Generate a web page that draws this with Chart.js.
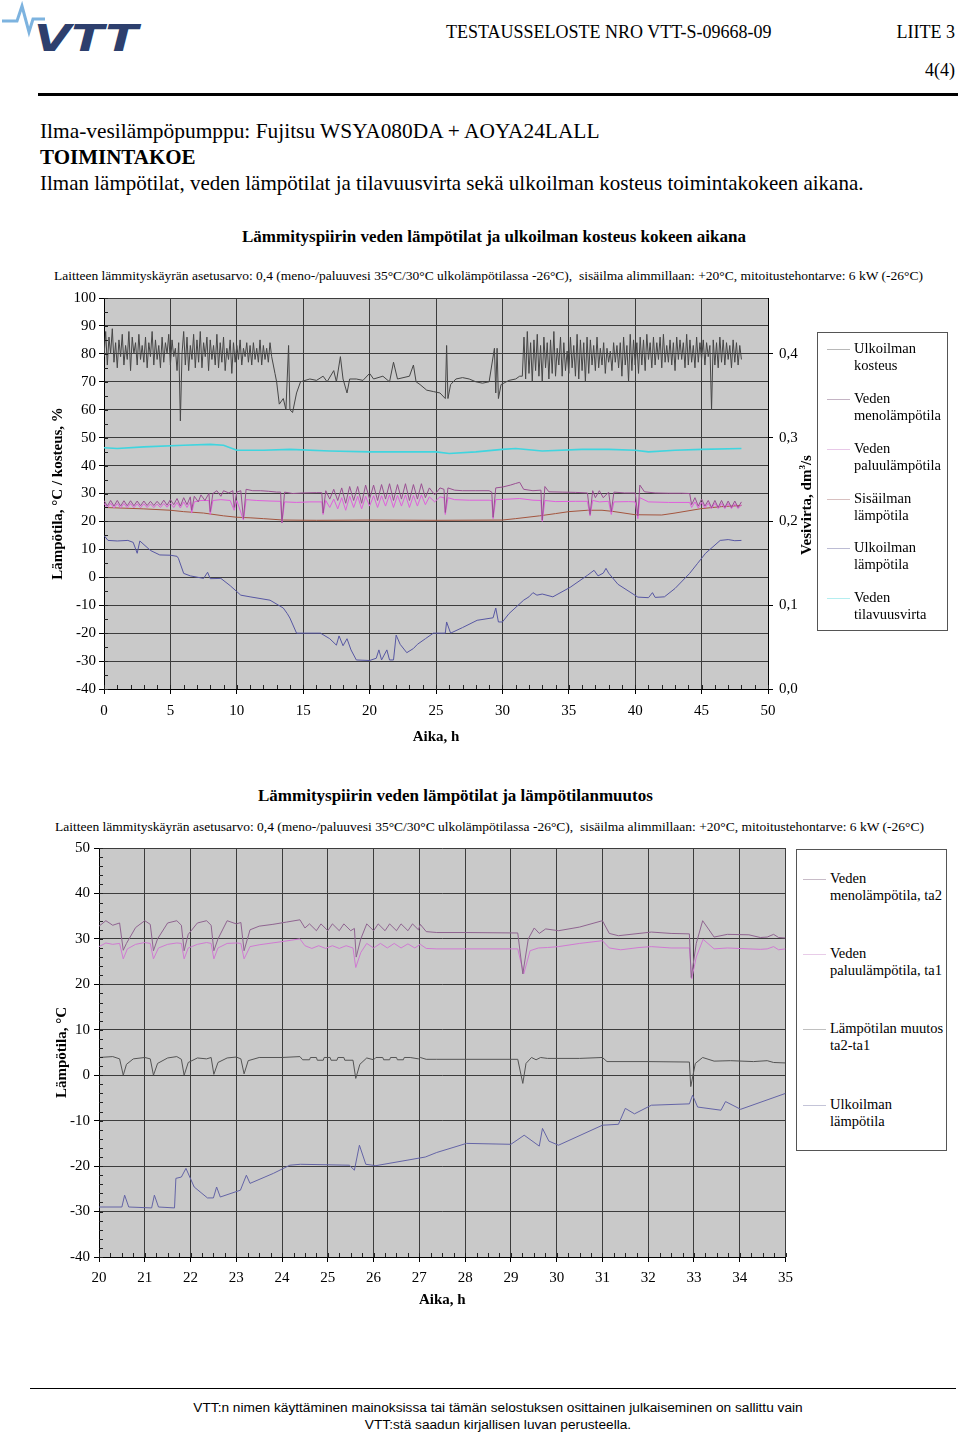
<!DOCTYPE html>
<html>
<head>
<meta charset="utf-8">
<script src="https://cdn.jsdelivr.net/npm/chart.js@4.4.1/dist/chart.umd.min.js"></script>
<style>
  body { margin: 0; background: #fff; }
  #page { position: relative; width: 960px; height: 1435px; overflow: hidden; background: #fff; }
  .t { position: absolute; white-space: nowrap; font-family: "Liberation Serif", "Times New Roman", serif; line-height: 1; color: #000; }
  .legend { position: absolute; border: 1px solid #555; background: #fff; box-sizing: border-box; }
  .li { position: absolute; font-family: "Liberation Serif", serif; font-size: 14.5px; line-height: 17px; white-space: nowrap; }
  .ls { position: absolute; height: 1px; width: 23px; }
  canvas { position: absolute; }
</style>
</head>
<body>
<div id="page">
  <svg style="position:absolute;left:0;top:0" width="145" height="60">
    <polyline points="2,21 17,21 22,6 29,32 33,19 45,19" fill="none" stroke="#7db3df" stroke-width="3"/>
    <text x="34" y="51" font-family="DejaVu Sans" font-weight="bold" font-style="italic" font-size="38" fill="#2d3f6d" textLength="104" lengthAdjust="spacingAndGlyphs">VTT</text>
  </svg>
  <div class="t" style="left:446px;top:23px;font-size:18px">TESTAUSSELOSTE NRO VTT-S-09668-09</div>
  <div class="t" style="right:5px;top:23px;font-size:18px">LIITE 3</div>
  <div class="t" style="right:5px;top:61px;font-size:18px">4(4)</div>
  <div style="position:absolute;left:38px;top:93px;width:920px;height:3px;background:#000"></div>

  <div class="t" style="left:40px;top:121px;font-size:21.4px">Ilma-vesilämpöpumppu: Fujitsu WSYA080DA + AOYA24LALL</div>
  <div class="t" style="left:40px;top:147px;font-size:21px;font-weight:bold">TOIMINTAKOE</div>
  <div class="t" style="left:40px;top:173px;font-size:21px">Ilman lämpötilat, veden lämpötilat ja tilavuusvirta sekä ulkoilman kosteus toimintakokeen aikana.</div>

  <div class="t" style="left:242px;top:228px;font-size:17px;font-weight:bold">Lämmityspiirin veden lämpötilat ja ulkoilman kosteus kokeen aikana</div>
  <div class="t" style="left:54px;top:269px;font-size:13.5px">Laitteen lämmityskäyrän asetusarvo: 0,4 (meno-/paluuvesi 35°C/30°C ulkolämpötilassa -26°C),&nbsp; sisäilma alimmillaan: +20°C, mitoitustehontarve: 6 kW (-26°C)</div>

  <canvas id="chart1" width="820" height="470" style="left:0;top:283px"></canvas>
  <div class="t" style="left:806px;top:505px;font-size:15px;font-weight:bold;transform:translate(-50%,-50%) rotate(-90deg)">Vesivirta, dm<sup style="font-size:9px">3</sup>/s</div>

  <div class="legend" style="left:817px;top:332px;width:131px;height:299px"></div>
  <div class="ls" style="left:827px;top:349px;background:#b8b8b8"></div>
  <div class="li" style="left:854px;top:340px">Ulkoilman<br>kosteus</div>
  <div class="ls" style="left:827px;top:399px;background:#c4b4c4"></div>
  <div class="li" style="left:854px;top:390px">Veden<br>menolämpötila</div>
  <div class="ls" style="left:827px;top:449px;background:#e8c8e8"></div>
  <div class="li" style="left:854px;top:440px">Veden<br>paluulämpötila</div>
  <div class="ls" style="left:827px;top:499px;background:#d8c0c0"></div>
  <div class="li" style="left:854px;top:490px">Sisäilman<br>lämpötila</div>
  <div class="ls" style="left:827px;top:548px;background:#bcbcd4"></div>
  <div class="li" style="left:854px;top:539px">Ulkoilman<br>lämpötila</div>
  <div class="ls" style="left:827px;top:598px;background:#b4eef0"></div>
  <div class="li" style="left:854px;top:589px">Veden<br>tilavuusvirta</div>

  <div class="t" style="left:258px;top:787px;font-size:17px;font-weight:bold">Lämmityspiirin veden lämpötilat ja lämpötilanmuutos</div>
  <div class="t" style="left:55px;top:820px;font-size:13.5px">Laitteen lämmityskäyrän asetusarvo: 0,4 (meno-/paluuvesi 35°C/30°C ulkolämpötilassa -26°C),&nbsp; sisäilma alimmillaan: +20°C, mitoitustehontarve: 6 kW (-26°C)</div>

  <canvas id="chart2" width="800" height="480" style="left:0;top:835px"></canvas>

  <div class="legend" style="left:796px;top:849px;width:151px;height:302px"></div>
  <div class="ls" style="left:803px;top:879px;background:#c8bcc8"></div>
  <div class="li" style="left:830px;top:870px">Veden<br>menolämpötila, ta2</div>
  <div class="ls" style="left:803px;top:954px;background:#e8cce8"></div>
  <div class="li" style="left:830px;top:945px">Veden<br>paluulämpötila, ta1</div>
  <div class="ls" style="left:803px;top:1029px;background:#c0c0c0"></div>
  <div class="li" style="left:830px;top:1020px">Lämpötilan muutos<br>ta2-ta1</div>
  <div class="ls" style="left:803px;top:1105px;background:#c4c4d8"></div>
  <div class="li" style="left:830px;top:1096px">Ulkoilman<br>lämpötila</div>

  <div style="position:absolute;left:30px;top:1388px;width:926px;height:1px;background:#000"></div>
  <div class="t" style="left:0;width:996px;text-align:center;top:1401px;font-size:13.7px;font-family:'Liberation Sans',Arial,sans-serif">VTT:n nimen käyttäminen mainoksissa tai tämän selostuksen osittainen julkaiseminen on sallittu vain</div>
  <div class="t" style="left:0;width:996px;text-align:center;top:1418px;font-size:13.7px;font-family:'Liberation Sans',Arial,sans-serif">VTT:stä saadun kirjallisen luvan perusteella.</div>
</div>

<script>
// ---- chart 1 ----
// humidity (%), logged every 7.5 min in the noisy stretches
const humidityStartA = 0;
const humidityValuesA = [
  79, 88, 76, 86, 80, 89, 77, 84,
  75, 85, 79, 87, 76, 83, 78, 88,
  74, 86, 80, 84, 76, 87, 78, 83,
  77, 86, 75, 84, 79, 88, 76, 85,
  78, 83, 75, 86, 77, 84, 80, 87,
  76, 85, 79, 82, 74, 84, 56, 80,
  88, 76, 86, 74, 83, 78, 87, 75,
  85, 77, 88, 75, 84, 79, 86, 74,
  85, 78, 83, 76, 87, 75, 84, 77,
  86, 74, 82, 78, 85, 73, 84, 77,
  83, 78, 85, 76, 82, 79, 84, 77,
  83, 76, 84, 78, 82, 77, 85, 76,
  83, 78, 82, 77, 84, 79, 76, 73,
  70
];
const humidityMid = [
  [13.2,62],[13.5,64],[13.7,60],[13.9,83],[14,60],[14.2,59],[14.5,66],[14.8,70],[15.5,71],[16,70.5],
  [16.5,72],[16.8,70],[17.3,74],[17.5,70],[17.8,79],[18,71],[18.3,66],[18.5,71],[19,71],[19.5,70.5],
  [20,73],[20.3,71],[21,72],[21.5,70],[21.8,77],[22.1,71],[23,72],[23.3,76],[23.5,70],[23.8,69],
  [24.3,67],[24.8,66.5],[25.3,66],[25.7,64],[25.8,83],[25.9,64],[26.1,69],[26.5,71],[27,71.5],[27.5,71],
  [28,70],[28.5,69.5],[29,70],[29.4,82],[29.5,66],[29.6,82],[29.7,64],[29.9,69],[30.5,70.5],[31,71],[31.3,72]
];
const humidityStartC = 31.5;
const humidityValuesC = [
  72, 86, 71, 88, 73, 84, 70, 85,
  74, 87, 72, 83, 70, 86, 75, 84,
  71, 85, 73, 88, 72, 82, 76, 86,
  72, 84, 74, 81, 73, 86, 75, 83,
  72, 87, 71, 85, 74, 84, 70, 86,
  73, 85, 76, 83, 74, 86, 75, 82,
  76, 84, 73, 82, 77, 81, 74, 84,
  77, 83, 75, 84, 72, 86, 76, 83,
  70, 87, 74, 85, 76, 84, 73, 86,
  76, 85, 74, 87, 78, 84, 75, 86,
  76, 84, 78, 86, 75, 87, 77, 83,
  77, 85, 76, 84, 74, 86, 78, 85,
  78, 84, 75, 87, 76, 85, 77, 83,
  75, 86, 77, 84, 78, 85, 76, 84,
  79, 83, 60, 85, 76, 84, 75, 86,
  77, 85, 76, 84, 78, 83, 75, 85,
  77, 84, 76, 83, 78
];
const humidityStep = 0.125;

// [hour, °C] readings
const supply1 = [
  [0,27.5],[0.25,25.5],[0.5,27.5],[0.75,25.5],[1,27.5],[1.25,25.5],[1.5,27.4],[1.75,25.6],[2,27.4],[2.25,25.6],
  [2.5,27.3],[2.75,25.6],[3,27.3],[3.25,25.7],[3.5,27.2],[3.75,25.7],[4,27.2],[4.25,25.8],[4.5,27.6],[4.75,25.8],
  [5,27.8],[5.25,26],[5.5,28.2],[5.75,25.5],[6,28.5],[6.25,26],[6.5,28.8],[6.6,24],[6.8,29],[7.1,27],
  [7.3,29.5],[7.6,27.5],[7.9,30],[8,23.5],[8.2,30],[8.5,31],[8.8,29],[9,31],[9.4,30.2],[9.7,31],
  [9.8,25],[10,30.5],[10.3,31],[10.5,21],[10.7,31.5],[11.2,31],[11.8,31],[12.4,30.8],[13,30.5],[13.3,30.5],
  [13.4,19.5],[13.6,30.5],[14.2,30],[15,30.2],[16,30.3],[16.4,30.3],[16.5,23],[16.7,31],[17,28],[17.3,31.5],
  [17.6,27.5],[17.9,32],[18.2,26.5],[18.5,32.5],[18.8,27.5],[19.1,32.5],[19.4,26.5],[19.7,33],[20,28],[20.3,33],
  [20.6,27.5],[20.9,33.2],[21.2,28],[21.5,33.5],[21.8,27.5],[22.1,33.2],[22.4,28],[22.7,33.5],[23,27.5],[23.3,33.2],
  [23.6,28],[23.9,33.5],[24.2,28.5],[24.5,32],[24.9,29.5],[25.3,32],[25.6,31.5],[25.7,23.2],[25.9,32],[26.4,31.2],
  [27,31],[28,31],[29,31],[29.2,30.5],[29.3,21.5],[29.5,32],[30,32.3],[30.6,33],[31,33.6],[31.3,34],
  [31.6,31.5],[32.3,31],[32.9,31.2],[33,20.5],[33.2,32.5],[33.5,30.6],[34.5,30.5],[35.5,30.4],[36.4,30.2],[36.6,22.5],
  [36.8,31],[37,28.5],[37.3,31],[37.6,28.5],[38,30.5],[38.2,23.5],[38.4,30.5],[39.2,30.2],[40,30.2],[40.2,22],
  [40.35,33],[40.7,30.6],[41.5,30.2],[42.5,30.1],[43.5,30.1],[44.1,30],[44.25,26],[44.5,28.5],[44.75,25.5],[45,28],
  [45.25,25.5],[45.5,27.5],[45.75,25],[46,27.5],[46.25,25],[46.5,27.5],[46.75,25],[47,27.3],[47.25,25],[47.5,27.3],
  [47.75,25],[48,27]
];
const return1 = [
  [0,26.5],[0.25,24.8],[0.5,26.5],[0.75,24.8],[1,26.4],[1.25,24.8],[1.5,26.4],[1.75,24.9],[2,26.4],[2.25,24.9],
  [2.5,26.3],[2.75,24.9],[3,26.3],[3.25,25],[3.5,26.2],[3.75,25],[4,26.2],[4.25,25],[4.5,26.4],[4.75,25.1],
  [5,26.5],[5.25,25],[5.5,26.8],[5.75,24.8],[6,27],[6.25,25],[6.5,27],[6.6,23],[6.8,27],[7.3,27.5],
  [7.9,27.5],[8,22.5],[8.2,27.5],[8.8,27.8],[9.5,27.5],[9.8,24],[10,27.5],[10.5,20.5],[10.7,27.8],[11.5,27.5],
  [12.5,27.3],[13.3,27.2],[13.4,19.5],[13.6,27],[14.5,26.8],[15.5,27],[16.4,27],[16.5,22.5],[16.7,27.5],[17,25],
  [17.3,28],[17.6,24.5],[17.9,28.5],[18.2,24],[18.5,29],[18.8,25],[19.1,29],[19.4,24.5],[19.7,29],[20,25.5],
  [20.3,29.2],[20.6,25],[20.9,29.2],[21.2,25.5],[21.5,29.5],[21.8,25],[22.1,29.3],[22.4,25.5],[22.7,29.5],[23,25],
  [23.3,29.3],[23.6,25.5],[23.9,29.5],[24.2,26],[24.5,28.8],[24.9,27],[25.3,28.8],[25.6,28.5],[25.7,22.5],[25.9,28.5],
  [26.4,27.8],[27.5,27.6],[29,27.6],[29.2,27.5],[29.3,21],[29.5,27.8],[30.5,28],[31.3,28.2],[32.3,27.6],[32.9,27.5],
  [33,20],[33.2,27.5],[34,27.1],[35.5,27.2],[36.4,27.2],[36.6,22],[36.8,27.5],[37.3,27],[38,27.2],[38.2,22.5],
  [38.4,27],[39.5,27.1],[40,27],[40.2,21],[40.35,28.5],[41,27],[42.5,26.8],[44.1,26.8],[44.25,25],[44.5,27],
  [44.75,24.8],[45,26.8],[45.25,24.8],[45.5,26.5],[45.75,24.6],[46,26.5],[46.25,24.6],[46.5,26.4],[46.75,24.6],[47,26.4],
  [47.25,24.6],[47.5,26.3],[47.75,24.6],[48,26]
];
const indoor1 = [
  [0,25],[3,24.5],[5,24],[6,23.5],[7.5,23],[9,22],[10,21.5],[11,21.3],[12,21],[13.5,20.5],
  [16,20.4],[20,20.5],[25,20.4],[30,20.5],[31,21],[32.8,22],[34,22.8],[35,23.5],[36.4,24],[37.5,24],
  [38.3,23.6],[40,22.4],[42,22.3],[43,23],[45,24.6],[46.5,25.3],[48,25.7]
];
const outdoor1 = [
  [0,15],[0.3,13.2],[1,13],[1.8,13.2],[2.2,12.5],[2.5,8.6],[2.7,13],[3.5,9.6],[4.2,8],[5,7.9],
  [5.5,7.5],[5.6,6.8],[6,1.4],[6.5,0.5],[7.5,-0.4],[7.8,1.8],[8,-0.5],[8.8,-0.4],[9.5,-3],[10.3,-6.4],
  [11,-7],[12.5,-8.2],[13.5,-11],[13.8,-13],[14,-14.6],[14.5,-20],[16.3,-20],[17,-22],[17.5,-24.3],[17.7,-21],
  [18,-24.5],[18.3,-22],[18.6,-26],[19,-29.6],[20,-29.8],[20.5,-29],[20.7,-26],[20.9,-29.6],[21.3,-26],[21.5,-29.6],
  [21.8,-29.6],[22,-20.7],[22.3,-24],[22.8,-27],[23.3,-25.5],[23.6,-24],[24.2,-22],[24.8,-20],[25.7,-20],[25.8,-16],
  [26.1,-20],[27,-18],[28.1,-15.4],[29.3,-14.5],[29.5,-11],[29.7,-16],[30,-16],[30.5,-13],[31.6,-8.2],[32,-7],
  [32.3,-5.5],[32.6,-6.4],[33,-6],[33.8,-7],[35.1,-3.6],[36.4,0.7],[36.9,2.5],[37.2,0.5],[37.6,1.5],[37.8,3.2],
  [38,1.5],[38.7,-2.5],[40.2,-7.1],[41,-7.3],[41.3,-5.5],[41.5,-7.2],[42.2,-7],[43,-4],[44.1,1.4],[44.7,5],
  [45.3,8.6],[46.4,13.2],[47,13.5],[47.5,13.1],[48,13.2]
];
// water flow, dm3/s (right axis)
const flow1 = [
  [0,0.288],[1,0.287],[3,0.289],[6,0.291],[8,0.292],[9,0.291],[10,0.285],[12,0.285],[14,0.286],[17,0.284],
  [20,0.283],[22,0.283],[25,0.283],[26,0.281],[28,0.283],[30,0.286],[31,0.287],[33,0.284],[36,0.286],[38,0.286],
  [40,0.285],[41,0.283],[43,0.285],[45,0.286],[48,0.287]
];

// ---- chart 2: [hour, °C] readings ----
const supply2 = [
  [20,32.8],[20.15,34],[20.3,33],[20.45,33.5],[20.53,27.5],[20.6,29],[20.8,32.5],[21,34],[21.12,33.2],[21.19,27.4],
  [21.28,30],[21.5,33.5],[21.7,34],[21.8,33],[21.86,27.4],[21.95,31],[22.15,33.5],[22.35,34],[22.45,33],[22.51,27.4],
  [22.6,30],[22.8,34],[23,33.3],[23.1,33.6],[23.17,27.4],[23.3,32],[23.5,32.8],[23.8,33.2],[24.1,33.7],[24.39,34.2],
  [24.5,32.4],[24.6,33.3],[24.75,31.8],[24.85,33.3],[25,31.8],[25.1,33.3],[25.25,31.8],[25.35,33.3],[25.5,31.8],[25.58,32.3],
  [25.62,26],[25.72,30],[25.85,33.3],[26,31.8],[26.1,33.3],[26.25,31.8],[26.35,33.3],[26.5,31.8],[26.6,33.3],[26.75,31.8],
  [26.85,33.3],[26.98,32],[27.02,33.2],[27.15,31.6],[27.38,31.4],[28,31.4],[29.15,31.3],[29.26,22.3],[29.38,30],[29.51,32.4],
  [29.62,31.2],[29.76,32.2],[30.04,31.8],[30.5,32.6],[31,34],[31.15,31.2],[31.35,30.7],[31.8,31.2],[32.07,31.5],[32.5,31.2],
  [32.9,31.1],[32.94,21.5],[33.05,29],[33.19,34],[33.44,30.4],[33.73,31],[34.2,30.9],[34.45,30.3],[34.6,30.4],[34.74,31],
  [34.85,30.3],[35,30.2]
];
const return2 = [
  [20,28.3],[20.15,29.1],[20.3,28.8],[20.45,29],[20.53,25.6],[20.62,27.8],[20.8,28.8],[21,29.2],[21.12,29],[21.19,25.6],
  [21.3,28],[21.5,28.8],[21.7,29.1],[21.8,29],[21.86,25.6],[21.95,28],[22.15,28.8],[22.35,29.2],[22.45,29],[22.51,25.6],
  [22.6,28],[22.8,29],[23,29.1],[23.1,29],[23.17,25.6],[23.3,28.3],[23.5,28.7],[24,29.4],[24.39,30],[24.5,28.5],
  [24.65,27.9],[24.8,28.5],[24.95,27.9],[25.1,28.5],[25.25,27.9],[25.4,28.5],[25.55,28],[25.61,23.7],[25.72,27],[25.85,29],
  [26,28],[26.15,29],[26.3,28],[26.45,29],[26.6,28],[26.75,28.9],[26.9,28],[27.02,28.8],[27.15,27.9],[27.38,27.8],
  [29.15,27.8],[29.28,22.3],[29.42,27.4],[29.6,28],[29.8,28.1],[30.04,28.3],[30.5,29],[31,29.6],[31.15,28],[31.4,27.6],
  [31.8,28.1],[32.07,28.3],[32.5,28],[32.9,28],[32.95,21.2],[33.05,26],[33.2,29.9],[33.44,27.8],[33.73,28],[34.2,27.8],
  [34.45,27.7],[34.6,27.8],[34.74,28.3],[34.85,27.6],[35,27.8]
];
const delta2 = [
  [20,3.9],[20.3,4.1],[20.45,3.6],[20.53,0],[20.6,2.4],[20.75,3.6],[21,3.9],[21.12,3.6],[21.19,0],[21.28,2.6],
  [21.5,3.8],[21.7,4.1],[21.8,3.5],[21.86,0],[21.95,2.8],[22.15,3.8],[22.35,3.6],[22.45,3.9],[22.51,0.2],[22.6,2.8],
  [22.8,3.8],[23,4],[23.1,3.6],[23.17,0.3],[23.26,3.2],[23.5,3.9],[24,3.9],[24.39,4.1],[24.45,3.4],[24.6,3.4],
  [24.62,3.9],[24.75,3.9],[24.77,3.3],[24.9,3.3],[24.92,3.9],[25.05,3.9],[25.07,3.3],[25.2,3.3],[25.22,3.9],[25.35,3.9],
  [25.37,3.3],[25.55,3.3],[25.61,-0.7],[25.7,2.4],[25.85,3.8],[26,3.4],[26.05,3.9],[26.2,3.9],[26.22,3.4],[26.35,3.4],
  [26.37,3.9],[26.5,3.9],[26.52,3.4],[26.65,3.4],[26.67,3.9],[26.8,3.9],[26.98,3.6],[27.02,3.9],[27.15,3.5],[27.38,3.5],
  [29.15,3.5],[29.26,-1.8],[29.33,2.6],[29.45,3.9],[29.55,3.4],[29.65,3.9],[29.8,3.7],[30.5,3.7],[31,3.9],[31.1,3],
  [32,3],[32.9,2.9],[32.93,-2.5],[33.03,2.6],[33.19,3.9],[33.44,3.1],[33.8,3.2],[34.3,3],[34.6,3.2],[34.74,2.8],[35,2.7]
];
const outdoor2 = [
  [20,-29],[20.5,-29],[20.56,-26.4],[20.65,-29],[21.15,-29.2],[21.21,-26.4],[21.3,-29],[21.65,-29.2],[21.68,-22.7],[21.8,-22.4],
  [21.9,-20.5],[22.08,-24.6],[22.37,-27],[22.5,-27],[22.57,-24.6],[22.65,-26.8],[23.09,-25.3],[23.22,-22],[23.3,-23.8],[23.81,-21.6],
  [24.17,-19.8],[24.4,-19.6],[25.47,-19.8],[25.58,-20.9],[25.69,-15.4],[25.83,-19.6],[26.05,-19.9],[27.13,-18],[27.38,-17],[28.03,-15],
  [29,-15.2],[29.29,-13.2],[29.62,-15.6],[29.69,-11.7],[29.83,-14.5],[30.04,-15.4],[31,-11],[31.35,-10.8],[31.5,-7.3],[31.7,-8.5],
  [32.07,-6.6],[32.9,-6.3],[32.97,-4.4],[33.08,-7],[33.59,-7.7],[33.69,-5.8],[34.02,-7.5],[35,-4]
];

const GRID = '#3c3c3c';
Chart.defaults.font.family = '"Liberation Serif", "Times New Roman", serif';
Chart.defaults.font.size = 15;
Chart.defaults.color = '#000';

// readings taken at a fixed interval -> [hour, value]
function logged(start, step, values) {
  return values.map((v, i) => [start + i * step, v]);
}
const humidity1 = logged(humidityStartA, humidityStep, humidityValuesA)
  .concat(humidityMid, logged(humidityStartC, humidityStep, humidityValuesC));

const plotBg = {
  id: 'plotBg',
  beforeDraw(chart, args, opts) {
    const { ctx, chartArea } = chart;
    ctx.save();
    ctx.fillStyle = opts.color;
    ctx.fillRect(chartArea.left, chartArea.top, chartArea.right - chartArea.left, chartArea.bottom - chartArea.top);
    ctx.restore();
  }
};

// small inward ticks between the labelled ones
const minorTicks = {
  id: 'minorTicks',
  afterDraw(chart, args, opts) {
    const { ctx, chartArea, scales } = chart;
    ctx.save();
    ctx.strokeStyle = '#222';
    ctx.lineWidth = 1;
    ctx.beginPath();
    for (let v = scales.x.min; v <= scales.x.max + 1e-9; v += opts.x) {
      const px = Math.round(scales.x.getPixelForValue(v)) + 0.5;
      ctx.moveTo(px, chartArea.bottom);
      ctx.lineTo(px, chartArea.bottom - opts.len);
    }
    for (let v = scales.y.min; v <= scales.y.max + 1e-9; v += opts.y) {
      const py = Math.round(scales.y.getPixelForValue(v)) + 0.5;
      ctx.moveTo(chartArea.left, py);
      ctx.lineTo(chartArea.left + opts.len, py);
    }
    ctx.stroke();
    ctx.restore();
  }
};

function series(label, pts, color, width) {
  return {
    label: label,
    data: pts.map(p => ({ x: p[0], y: p[1] })),
    borderColor: color,
    borderWidth: width || 1,
    pointRadius: 0,
    fill: false,
    tension: 0
  };
}

function axisTitle(text, bottom) {
  return { display: true, text: text, font: { size: 15, weight: 'bold' }, padding: { top: 4, bottom: bottom } };
}

new Chart(document.getElementById('chart1'), {
  type: 'line',
  data: {
    datasets: [
      series('Ulkoilman kosteus', humidity1, '#464646'),
      series('Veden menolämpötila', supply1, '#9a4f92'),
      series('Veden paluulämpötila', return1, '#e05fdc'),
      series('Sisäilman lämpötila', indoor1, '#a4553e'),
      series('Ulkoilman lämpötila', outdoor1, '#5757a3'),
      Object.assign(series('Veden tilavuusvirta', flow1, '#3fd5df', 1.6), { yAxisID: 'y2' })
    ]
  },
  options: {
    responsive: false,
    animation: false,
    events: [],
    layout: { padding: { left: 45, right: 2, top: 10, bottom: 0 } },
    plugins: {
      legend: { display: false },
      tooltip: { enabled: false },
      plotBg: { color: '#c9c9c9' },
      minorTicks: { x: 1, y: 5, len: 4 }
    },
    scales: {
      x: {
        type: 'linear', min: 0, max: 50,
        ticks: { stepSize: 5, padding: 8 },
        grid: { color: GRID, tickColor: '#000', tickLength: 5 },
        border: { color: '#000' },
        title: axisTitle('Aika, h', 7),
        afterFit: s => { s.height = 64; }
      },
      y: {
        min: -40, max: 100,
        ticks: { stepSize: 10, padding: 3 },
        grid: { color: GRID, tickColor: '#000', tickLength: 5 },
        border: { color: '#000' },
        title: axisTitle('Lämpötila, °C / kosteus, %', 4),
        afterFit: s => { s.width = 59; }
      },
      y2: {
        position: 'right', min: 0, max: 140 / 300,
        ticks: { stepSize: 0.1, padding: 6, callback: v => v.toFixed(1).replace('.', ',') },
        afterBuildTicks: s => { s.ticks = s.ticks.filter(t => Math.abs(t.value * 10 - Math.round(t.value * 10)) < 1e-6); },
        grid: { drawOnChartArea: false, tickColor: '#000', tickLength: 5 },
        border: { color: '#000' },
        afterFit: s => { s.width = 50; }
      }
    }
  },
  plugins: [plotBg, minorTicks]
});

new Chart(document.getElementById('chart2'), {
  type: 'line',
  data: {
    datasets: [
      series('Veden menolämpötila, ta2', supply2, '#8f6490'),
      series('Veden paluulämpötila, ta1', return2, '#d07ad2'),
      series('Lämpötilan muutos ta2-ta1', delta2, '#545454'),
      series('Ulkoilman lämpötila', outdoor2, '#6464a6')
    ]
  },
  options: {
    responsive: false,
    animation: false,
    events: [],
    layout: { padding: { left: 49, right: 8, top: 12, bottom: 0 } },
    plugins: {
      legend: { display: false },
      tooltip: { enabled: false },
      plotBg: { color: '#c9c9c9' },
      minorTicks: { x: 0.25, y: 2, len: 4 }
    },
    scales: {
      x: {
        type: 'linear', min: 20, max: 35,
        ticks: { stepSize: 1, padding: 7 },
        grid: { color: GRID, tickColor: '#000', tickLength: 5 },
        border: { color: '#000' },
        title: axisTitle('Aika, h', 6),
        afterFit: s => { s.height = 58; }
      },
      y: {
        min: -40, max: 50,
        ticks: { stepSize: 10, padding: 4 },
        grid: { color: GRID, tickColor: '#000', tickLength: 5 },
        border: { color: '#000' },
        title: axisTitle('Lämpötila, °C', 4),
        afterFit: s => { s.width = 50; }
      }
    }
  },
  plugins: [plotBg, minorTicks]
});
</script>
</body>
</html>
